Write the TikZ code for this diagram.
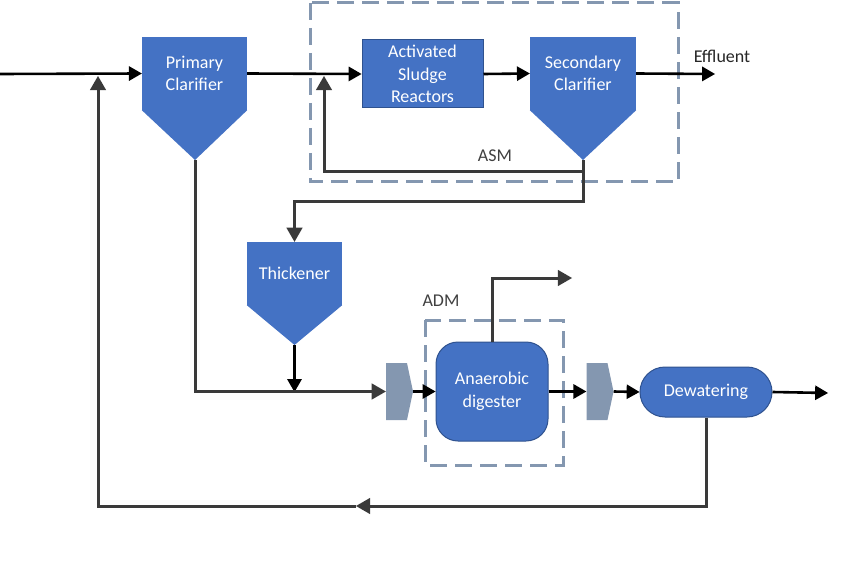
\documentclass[tikz,border=0pt]{standalone}
\usepackage{fontspec}
\setmainfont{Carlito}
\usepackage{tikz}
\usetikzlibrary{arrows,shapes,positioning}
\definecolor{unitblue}{HTML}{4472C4}
\definecolor{unitedge}{HTML}{2F528F}
\definecolor{feedgrey}{HTML}{8497B0}
\definecolor{linegrey}{HTML}{3A3A3A}
\definecolor{labelgrey}{HTML}{404040}
\tikzset{
  unit/.style={fill=unitblue,text=white,align=center,inner sep=0pt,font=\fontsize{18}{22.5}\selectfont},
  feeder/.style={signal,signal to=east,signal pointer angle=156,fill=feedgrey,minimum width=27pt,minimum height=57pt,inner sep=0pt},
  flow/.style={line width=2.6pt,-triangle 60},
  recycle/.style={line width=3pt,linegrey,-triangle 60},
  modelbox/.style={feedgrey,line width=3pt,dash pattern=on 17pt off 8pt},
  lbl/.style={text=labelgrey,font=\fontsize{18}{22.5}\selectfont}
}
\begin{document}
\begin{tikzpicture}[x=1pt,y=-1pt]
  \useasboundingbox (0,0) rectangle (860,575);
  %model boundaries
    \draw[modelbox] (310,3) rectangle (678,182);
    \draw[modelbox] (425,320) rectangle (563,465);
    \node[lbl] (asm) at (495,156) {ASM};
    \node[lbl] (adm) at (441,301) {ADM};
  %draw units
    \coordinate (pct) at (195,160);
    \coordinate (sct) at (583,160);
    \coordinate (tht) at (294.5,345);
    \node[unit,minimum width=105pt,minimum height=73pt] (pc) at (194.5,73.5) {Primary\\Clarifier};
    \fill[unitblue] (pc.south west) -- (pc.south east) -- (pct) -- cycle;
    \node[unit,draw=unitedge,line width=1pt,minimum width=121pt,minimum height=68pt] (asr) at (422.5,74) {Activated\\Sludge\\Reactors};
    \node[unit,minimum width=106pt,minimum height=73pt] (sc) at (583,73.5) {Secondary\\Clarifier};
    \fill[unitblue] (sc.south west) -- (sc.south east) -- (sct) -- cycle;
    \node[unit,minimum width=95pt,minimum height=63pt] (th) at (294.5,273.5) {Thickener};
    \fill[unitblue] (th.south west) -- (th.south east) -- (tht) -- cycle;
    \node[feeder] (f1) at (396.5,391.5) {};
    \node[unit,draw=unitedge,line width=1pt,rounded corners=22pt,minimum width=112pt,minimum height=99pt] (ad) at (492,391.5) {Anaerobic\\digester};
    \node[feeder] (f2) at (597,391.5) {};
    \node[unit,draw=unitedge,line width=1pt,rounded corners=25pt,minimum width=132pt,minimum height=50pt] (dw) at (706,392) {Dewatering};
  %free ends
    \coordinate (in) at (0,74);
    \coordinate (eff) at (715,74);
    \coordinate (ras) at (324,76);
    \coordinate (mix) at (294.5,392);
    \coordinate (gas) at (572,278);
    \coordinate (out) at (828,393);
    \coordinate (rmid) at (356,506);
    \coordinate (rin) at (98,76);
    \node[lbl,text=black!85] (efflbl) at (722,56) {Effluent};
  %main flow
    \draw[flow] (in) -- (pc.west);
    \draw[flow] (pc.east) -- (asr.west);
    \draw[flow] (asr.east) -- (sc.west);
    \draw[flow] (sc.east) -- (eff);
    \draw[flow] (tht) -- (mix);
    \draw[flow] (f1.east) -- (ad.west);
    \draw[flow] (ad.east) -- (f2.west);
    \draw[flow] (f2.east) -- (dw.west);
    \draw[flow] (dw.east) -- (out);
  %sludge lines
    \draw[recycle] (sct) -- ++(0,12) -| (ras);
    \draw[recycle,-triangle 60] (sct) ++(0,12) -- ++(0,30) -| (th.north);
    \draw[recycle] (pct) |- (f1.west);
    \draw[recycle] (ad.north) |- (gas);
    \draw[recycle] (dw.south) |- (rmid);
    \draw[recycle] (rmid) -| (rin);
\end{tikzpicture}
\end{document}
